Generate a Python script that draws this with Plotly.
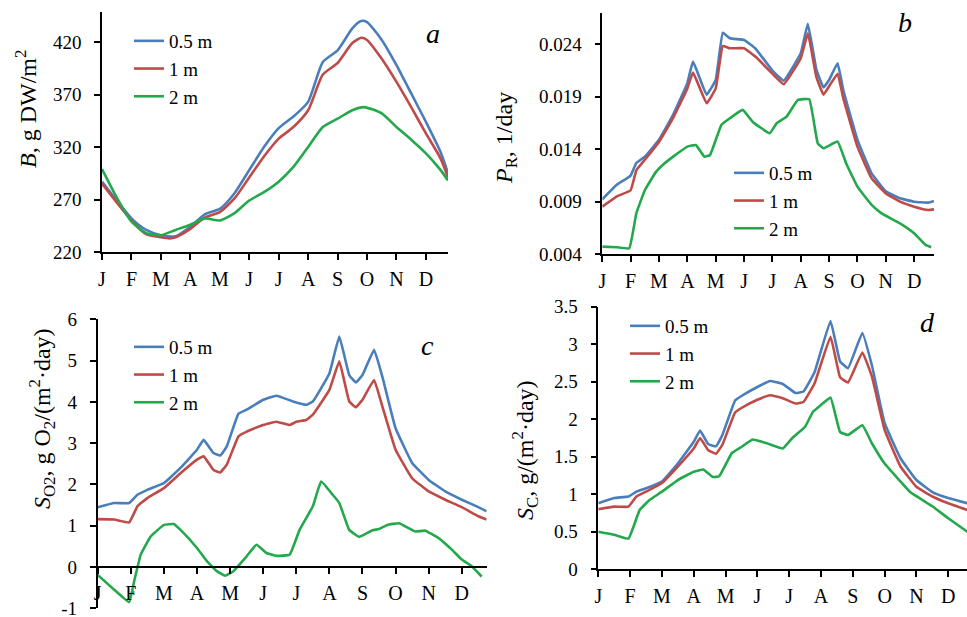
import plotly.graph_objects as go

W, H = 967, 617
MONTHS = ["J", "F", "M", "A", "M", "J", "J", "A", "S", "O", "N", "D"]
SERIES = ["0.5 m", "1 m", "2 m"]
COLORS = ["#4a7ebb", "#be4b48", "#23a84c"]
FONT = '"Liberation Serif", "Times New Roman", Times, "DejaVu Serif", serif'

# ---------------- panel a : B, g DW/m2 ----------------
a_x_05 = [0, 1, 1.5, 2, 2.5, 3, 3.5, 4, 4.5, 5, 5.5, 6, 6.5, 7, 7.5, 8, 8.5, 8.8, 9, 9.5, 10, 10.5, 11, 11.5, 11.75]
a_y_05 = [287, 252, 241, 236, 235, 244, 256, 261, 276, 298, 320, 338, 349, 363, 401, 412, 433, 440, 439, 422, 398, 371, 344, 315, 295]
a_x_1 = [0, 1, 1.5, 2, 2.3, 2.5, 3, 3.5, 4, 4.5, 5, 5.5, 6, 6.5, 7, 7.5, 8, 8.5, 8.8, 9, 9.5, 10, 10.5, 11, 11.5, 11.75]
a_y_1 = [285, 250, 237, 234, 233, 234, 242, 253, 258, 271, 291, 311, 328, 339, 355, 389, 400, 419, 424, 422, 404, 382, 358, 333, 309, 291]
a_x_2 = [0, 0.5, 1, 1.5, 2, 2.5, 3, 3.5, 4, 4.5, 5, 5.5, 6, 6.5, 7, 7.5, 8, 8.5, 8.9, 9.5, 10, 10.5, 11, 11.5, 11.75]
a_y_2 = [299, 272, 249, 238, 236, 241, 246, 252, 250, 257, 269, 277, 287, 301, 320, 339, 347, 355, 358, 352, 339, 327, 314, 298, 288]

# ---------------- panel b : P_R, 1/day ----------------
b_x_05 = [0, 0.5, 1, 1.2, 1.5, 2, 2.5, 3, 3.2, 3.68, 4, 4.25, 4.5, 5, 5.4, 6, 6.4, 7, 7.25, 7.55, 7.8, 8, 8.3, 8.5, 9, 9.5, 10, 10.5, 11, 11.5, 11.7]
b_y_05 = [0.00924, 0.0106, 0.0115, 0.0127, 0.0133, 0.0149, 0.0173, 0.0203, 0.02235, 0.0192, 0.0206, 0.0251, 0.02457, 0.0244, 0.0236, 0.0215, 0.02054, 0.02314, 0.02594, 0.0216, 0.0199, 0.0206, 0.0222, 0.01965, 0.0149, 0.0117, 0.0100, 0.00933, 0.00901, 0.00892, 0.00908]
b_x_1 = b_x_05
b_y_1 = [0.00854, 0.0095, 0.0101, 0.0120, 0.0130, 0.0147, 0.0170, 0.0198, 0.0213, 0.01838, 0.0198, 0.02384, 0.02362, 0.02362, 0.02283, 0.0212, 0.0202, 0.02267, 0.02505, 0.0209, 0.0192, 0.0200, 0.0212, 0.01886, 0.01425, 0.01124, 0.0098, 0.00901, 0.00854, 0.00822, 0.00828]
b_x_2 = [0, 0.5, 0.95, 1.2, 1.5, 1.9, 2.2, 2.5, 3, 3.3, 3.6, 3.8, 4.2, 4.5, 4.95, 5.3, 5.9, 6.15, 6.5, 6.9, 7.3, 7.6, 7.8, 8.3, 8.6, 9, 9.5, 9.85, 10.5, 11, 11.4, 11.6]
b_y_2 = [0.00473, 0.00467, 0.00457, 0.0079, 0.0101, 0.01187, 0.01267, 0.0133, 0.01425, 0.01441, 0.0133, 0.01346, 0.01632, 0.01695, 0.01775, 0.01663, 0.01552, 0.01648, 0.01711, 0.0187, 0.01876, 0.01457, 0.0141, 0.01473, 0.01267, 0.01044, 0.0087, 0.0079, 0.00695, 0.0060, 0.00489, 0.00467]

# ---------------- panel c : S_O2 ----------------
c_x_05 = [0, 0.5, 0.95, 1.2, 1.5, 2, 2.5, 3, 3.2, 3.5, 3.7, 3.9, 4.25, 4.5, 5, 5.4, 5.9, 6.3, 6.5, 7, 7.3, 7.6, 7.8, 8, 8.35, 8.6, 9, 9.5, 10, 10.5, 11, 11.5, 11.75]
c_y_05 = [1.45, 1.55, 1.55, 1.75, 1.87, 2.03, 2.40, 2.84, 3.08, 2.76, 2.70, 2.92, 3.71, 3.81, 4.05, 4.15, 4.01, 3.93, 4.01, 4.69, 5.58, 4.65, 4.47, 4.65, 5.26, 4.61, 3.36, 2.52, 2.11, 1.83, 1.63, 1.45, 1.35]
c_x_1 = [0, 0.5, 0.95, 1.2, 1.5, 2, 2.5, 3, 3.2, 3.5, 3.7, 3.9, 4.25, 4.5, 5, 5.4, 5.8, 6, 6.3, 6.5, 7, 7.3, 7.6, 7.8, 8, 8.35, 8.6, 9, 9.5, 10, 10.5, 11, 11.5, 11.75]
c_y_1 = [1.16, 1.15, 1.08, 1.47, 1.67, 1.91, 2.27, 2.60, 2.68, 2.35, 2.29, 2.48, 3.16, 3.28, 3.44, 3.52, 3.44, 3.52, 3.56, 3.69, 4.29, 4.98, 4.01, 3.87, 4.05, 4.53, 3.89, 2.84, 2.15, 1.83, 1.63, 1.45, 1.23, 1.15]
c_x_2 = [0, 0.5, 0.95, 1.1, 1.3, 1.6, 2, 2.3, 2.6, 3, 3.3, 3.6, 3.85, 4.1, 4.5, 4.8, 5.1, 5.4, 5.8, 6.1, 6.5, 6.75, 7.1, 7.3, 7.6, 7.9, 8.3, 8.5, 8.75, 9.1, 9.4, 9.6, 9.9, 10.3, 10.7, 11, 11.3, 11.6]
c_y_2 = [-0.19, -0.55, -0.85, -0.35, 0.30, 0.74, 1.02, 1.04, 0.82, 0.46, 0.14, -0.10, -0.21, -0.10, 0.26, 0.54, 0.34, 0.27, 0.30, 0.90, 1.47, 2.07, 1.75, 1.55, 0.90, 0.73, 0.89, 0.92, 1.02, 1.06, 0.94, 0.86, 0.88, 0.70, 0.42, 0.18, 0.02, -0.23]

# ---------------- panel d : S_C ----------------
d_x_05 = [0, 0.5, 0.95, 1.2, 1.5, 2, 2.5, 3, 3.2, 3.45, 3.7, 3.9, 4.3, 4.5, 5, 5.4, 5.8, 6.2, 6.45, 6.8, 7.3, 7.6, 7.85, 8.3, 8.6, 9, 9.5, 10, 10.5, 11, 11.6]
d_y_05 = [0.88, 0.95, 0.97, 1.035, 1.08, 1.17, 1.41, 1.70, 1.85, 1.67, 1.64, 1.79, 2.25, 2.31, 2.43, 2.51, 2.47, 2.35, 2.37, 2.63, 3.31, 2.77, 2.68, 3.15, 2.72, 1.95, 1.48, 1.19, 1.03, 0.95, 0.88]
d_x_1 = d_x_05
d_y_1 = [0.80, 0.835, 0.835, 0.97, 1.035, 1.15, 1.37, 1.61, 1.75, 1.59, 1.54, 1.66, 2.09, 2.15, 2.26, 2.32, 2.28, 2.21, 2.23, 2.48, 3.10, 2.56, 2.49, 2.89, 2.57, 1.86, 1.37, 1.10, 0.97, 0.88, 0.79]
d_x_2 = [0, 0.5, 0.95, 1.3, 1.6, 2, 2.5, 3, 3.3, 3.6, 3.8, 4.2, 4.5, 4.85, 5.3, 5.8, 6.1, 6.5, 6.75, 7.0, 7.3, 7.6, 7.85, 8.3, 8.6, 9, 9.5, 9.8, 10.5, 11, 11.6]
d_y_2 = [0.50, 0.46, 0.41, 0.79, 0.92, 1.035, 1.19, 1.30, 1.33, 1.23, 1.24, 1.55, 1.63, 1.73, 1.68, 1.61, 1.75, 1.90, 2.10, 2.19, 2.29, 1.83, 1.79, 1.92, 1.68, 1.41, 1.17, 1.03, 0.84, 0.68, 0.50]

# y tick values per panel
a_ticks = [220, 270, 320, 370, 420]
b_ticks = [0.004, 0.009, 0.014, 0.019, 0.024]
c_ticks = [-1, 0, 1, 2, 3, 4, 5, 6]
d_ticks = [0, 0.5, 1, 1.5, 2, 2.5, 3, 3.5]
d_ticktext = ["0", "0.5", "1", "1.5", "2", "2.5", "3", "3.5"]


def px(x):
    return x / W


def py(y):
    return 1 - y / H


panels = [
    dict(k="", xd=(102, 448), yd=(12, 252), xr=[0, 11.75], yr=[220, 448.6],
         data=[(a_x_05, a_y_05), (a_x_1, a_y_1), (a_x_2, a_y_2)], smooth=0.6,
         ticks=a_ticks, ticktext=[str(v) for v in a_ticks],
         leg=(129, 22), letter=("a", 433, 34),
         title="<i>B</i>, g DW/m<sup>2</sup>", tpos=(26, 109)),
    dict(k="2", xd=(602.3, 934), yd=(13.3, 254.3), xr=[0, 11.7], yr=[0.004, 0.02695],
         data=[(b_x_05, b_y_05), (b_x_1, b_y_1), (b_x_2, b_y_2)], smooth=0.3,
         ticks=b_ticks, ticktext=["%.3f" % v for v in b_ticks],
         leg=(729, 154), letter=("b", 905, 23),
         title="<i>P</i><sub>R</sub>, 1/day", tpos=(506, 138)),
    dict(k="3", xd=(97.7, 486.6), yd=(319.3, 608.3), xr=[0, 11.75], yr=[-1, 6],
         data=[(c_x_05, c_y_05), (c_x_1, c_y_1), (c_x_2, c_y_2)], smooth=0.3,
         ticks=c_ticks, ticktext=[str(v) for v in c_ticks],
         leg=(129, 328), letter=("c", 427, 345),
         title="<i>S</i><sub>O2</sub>, g O<sub>2</sub>/(m<sup>2</sup>·day)", tpos=(42, 419)),
    dict(k="4", xd=(598.3, 967), yd=(306.7, 569.3), xr=[0, 11.59], yr=[0, 3.5],
         data=[(d_x_05, d_y_05), (d_x_1, d_y_1), (d_x_2, d_y_2)], smooth=0.3,
         ticks=d_ticks, ticktext=d_ticktext,
         leg=(625, 307), letter=("d", 927, 322),
         title="<i>S</i><sub>C</sub>, g/(m<sup>2</sup>·day)", tpos=(525, 450)),
]

fig = go.Figure()
layout = dict(
    width=W, height=H, autosize=False, margin=dict(l=0, r=0, t=0, b=0, pad=0),
    paper_bgcolor="white", plot_bgcolor="white",
    font=dict(family=FONT, color="black", size=19),
    annotations=[], showlegend=True,
)

for p in panels:
    k = p["k"]
    xa = "x" + k
    ya = "y" + k
    legname = "legend" + k
    for (xs, ys), name, col in zip(p["data"], SERIES, COLORS):
        fig.add_trace(go.Scatter(
            x=xs, y=ys, name=name, mode="lines",
            line=dict(color=col, width=2.6, shape="spline", smoothing=p["smooth"]),
            xaxis=xa, yaxis=ya, legend=legname, legendgroup=name + k,
            hoverinfo="skip"))
    xaxis = dict(
        domain=[px(p["xd"][0]), px(p["xd"][1])], range=p["xr"],
        anchor=ya, showgrid=False, zeroline=False, showline=True, automargin=False,
        linecolor="black", linewidth=1.6, ticks="outside", ticklen=6,
        tickwidth=1.5, tickcolor="black", tickvals=list(range(12)),
        ticktext=MONTHS, tickfont=dict(size=20, family=FONT, color="black"),
        ticklabelstandoff=2, ticklabeloverflow="allow",
    )
    if k == "3":
        xaxis["anchor"] = "free"
        # x axis drawn along y = 0
        y0 = p["yd"][1] - (0 - p["yr"][0]) / (p["yr"][1] - p["yr"][0]) * (p["yd"][1] - p["yd"][0])
        xaxis["position"] = py(y0)
    yaxis = dict(
        domain=[py(p["yd"][1]), py(p["yd"][0])], range=p["yr"],
        anchor=xa, showgrid=False, zeroline=False, showline=True, automargin=False,
        linecolor="black", linewidth=1.6, ticks="outside", ticklen=6,
        tickwidth=1.5, tickcolor="black", tickvals=p["ticks"],
        ticktext=p["ticktext"], tickfont=dict(size=19, family=FONT, color="black"),
        ticklabelstandoff=9, ticklabeloverflow="allow",
    )
    layout["xaxis" + k] = xaxis
    layout["yaxis" + k] = yaxis
    layout[legname] = dict(
        x=px(p["leg"][0]), y=py(p["leg"][1]), xanchor="left", yanchor="top",
        bgcolor="rgba(0,0,0,0)", borderwidth=0, itemwidth=30,
        font=dict(size=19, family=FONT, color="black"), tracegroupgap=0,
    )
    lt, lx, ly = p["letter"]
    layout["annotations"].append(dict(
        text="<i>%s</i>" % lt, x=px(lx), y=py(ly), xref="paper", yref="paper",
        showarrow=False, xanchor="center", yanchor="middle",
        font=dict(size=28, family=FONT, color="black")))
    layout["annotations"].append(dict(
        text=p["title"], x=px(p["tpos"][0]), y=py(p["tpos"][1]),
        xref="paper", yref="paper", showarrow=False, textangle=-90,
        xanchor="center", yanchor="middle", font=dict(size=24, family=FONT, color="black")))

fig.update_layout(**layout)
fig.write_html("out.html", config={"displayModeBar": False},
               post_script="document.body.style.margin='0';")
